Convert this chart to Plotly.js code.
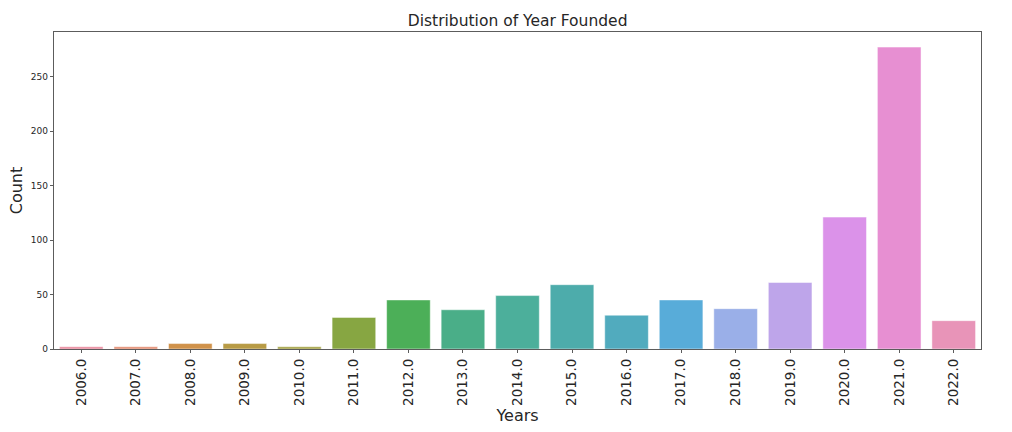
<!DOCTYPE html>
<html>
<head>
<meta charset="utf-8">
<script src="https://cdn.plot.ly/plotly-3.0.1.min.js"></script>
<style>html,body{margin:0;padding:0;background:#fff;}#chart{width:1012px;height:432px;}</style>
</head>
<body>
<div id="chart"></div>
<script>
const years = ["2006.0","2007.0","2008.0","2009.0","2010.0","2011.0","2012.0","2013.0","2014.0","2015.0","2016.0","2017.0","2018.0","2019.0","2020.0","2021.0","2022.0"];
const counts = [2, 2, 5, 5, 2, 29, 45, 36, 49, 59, 31, 45, 37, 61, 121, 277, 26];
const barColors = ["#e8879b","#e28a6e","#d0924a","#b89b45","#a19f3f","#87a642","#4caf58","#4aae88","#4caf9b","#4dacab","#51abbe","#58acd9","#9aafe8","#bea5ea","#db92e9","#e78fd2","#e894b8"];

const trace = {
  type: "bar",
  x: years,
  y: counts,
  width: 0.8,
  marker: {color: barColors, line: {color: "rgba(255,255,255,0.6)", width: 0.8}},
  hoverinfo: "x+y"
};

const font = "DejaVu Sans, Liberation Sans, sans-serif";
const layout = {
  width: 1012,
  height: 432,
  margin: {l: 54, r: 31, t: 32, b: 83, pad: 0},
  paper_bgcolor: "#ffffff",
  plot_bgcolor: "#ffffff",
  showlegend: false,
  bargap: 0.2,
  title: {text: "Distribution of Year Founded", font: {family: font, size: 15.5, color: "#262626"}, x: 0.5115, xanchor: "center", y: 0.953, yanchor: "middle"},
  xaxis: {
    type: "category",
    range: [-0.5, 16.5],
    tickangle: -90,
    tickfont: {family: font, size: 13.5, color: "#262626"},
    ticks: "outside", ticklen: 3.5, tickwidth: 0.8, tickcolor: "#333",
    showline: true, linecolor: "#333", linewidth: 0.8, mirror: true,
    showgrid: false, zeroline: false,
    automargin: false,
    title: {text: "Years", font: {family: font, size: 16, color: "#262626"}, standoff: 3}
  },
  yaxis: {
    range: [0, 290.85],
    tickvals: [0, 50, 100, 150, 200, 250],
    tickfont: {family: font, size: 9, color: "#262626"},
    ticks: "outside", ticklen: 3.5, tickwidth: 0.8, tickcolor: "#333",
    showline: true, linecolor: "#333", linewidth: 0.8, mirror: true,
    showgrid: false, zeroline: false,
    automargin: false,
    title: {text: "Count", font: {family: font, size: 16, color: "#262626"}, standoff: 4}
  }
};

Plotly.newPlot("chart", [trace], layout, {displayModeBar: false, staticPlot: true});
</script>
</body>
</html>
